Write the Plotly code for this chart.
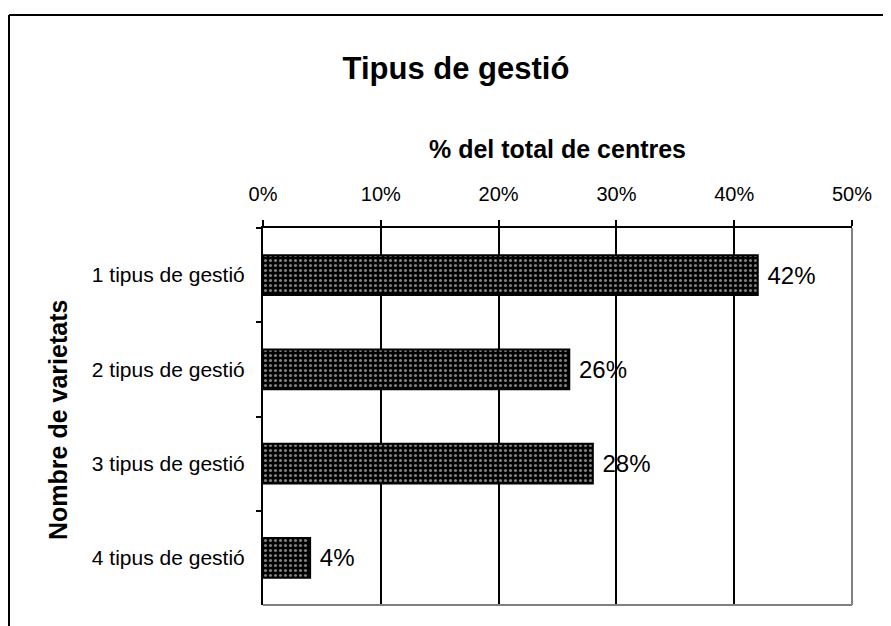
import plotly.graph_objects as go

categories = ["1 tipus de gestió", "2 tipus de gestió", "3 tipus de gestió", "4 tipus de gestió"]
values = [42, 26, 28, 4]
tick_vals = [0, 10, 20, 30, 40, 50]
tick_text = ["0%", "10%", "20%", "30%", "40%", "50%"]

FONT = "Arial, Liberation Sans, sans-serif"

# plot area in figure pixels (page has an 8px body offset)
L, R, T, B = 255, 844, 220, 597
W, H = 891, 626
PW, PH = R - L, B - T

def px(x):
    return (x - L) / PW

def py(y):
    return (B - y) / PH

fig = go.Figure()
fig.add_trace(go.Bar(
    y=categories, x=values, orientation="h",
    width=0.42,
    marker=dict(color="black",
                line=dict(color="black", width=2),
                pattern=dict(shape=".", fgcolor="white", bgcolor="black",
                             size=5, solidity=0.3, fillmode="overlay")),
    text=[f" {v}%" for v in values], textposition="outside",
    textfont=dict(family=FONT, size=24, color="black"),
    cliponaxis=False, showlegend=False,
))

fig.update_layout(
    width=W, height=H,
    margin=dict(l=L, r=W - R, t=T, b=H - B),
    paper_bgcolor="white", plot_bgcolor="white",
    font=dict(family=FONT, color="black"),
    title=dict(text="<b>Tipus de gestió</b>", x=448 / W, xanchor="center",
               y=1 - 60 / H, yanchor="middle", font=dict(size=31, family=FONT, color="black")),
    xaxis=dict(side="top", range=[0, 50], tickvals=tick_vals, ticktext=tick_text,
               showgrid=True, gridcolor="black", gridwidth=2,
               showline=True, linecolor="black", linewidth=2,
               ticks="outside", ticklen=6, tickcolor="black", tickwidth=2,
               ticklabelstandoff=11,
               tickfont=dict(size=20, family=FONT, color="black"),
               zeroline=False),
    yaxis=dict(autorange="reversed", tickson="boundaries",
               showline=True, linecolor="black", linewidth=2,
               ticks="outside", ticklen=5, tickcolor="black", tickwidth=1.5,
               ticklabelstandoff=12,
               tickfont=dict(size=21, family=FONT, color="black"),
               showgrid=False, zeroline=False),
    shapes=[
        dict(type="line", xref="paper", yref="paper", x0=0, x1=1, y0=0, y1=0,
             line=dict(color="#808080", width=2), layer="above"),
        dict(type="line", xref="paper", yref="paper", x0=1, x1=1, y0=0, y1=1,
             line=dict(color="#808080", width=2), layer="above"),
        # chart-area border (top and left)
        dict(type="line", xref="paper", yref="paper",
             x0=px(1), x1=px(W + 5), y0=py(7), y1=py(7),
             line=dict(color="black", width=2)),
        dict(type="line", xref="paper", yref="paper",
             x0=px(1), x1=px(1), y0=py(7), y1=py(H + 5),
             line=dict(color="black", width=2)),
    ],
    annotations=[
        dict(text="<b>% del total de centres</b>", xref="paper", yref="paper",
             x=0.5, y=py(141), showarrow=False, xanchor="center", yanchor="middle",
             font=dict(size=25, family=FONT, color="black")),
        dict(text="<b>Nombre de varietats</b>", xref="paper", yref="paper",
             x=px(50), y=py(412), textangle=-90, showarrow=False,
             xanchor="center", yanchor="middle",
             font=dict(size=25, family=FONT, color="black")),
    ],
)

fig.write_html("out.html")
